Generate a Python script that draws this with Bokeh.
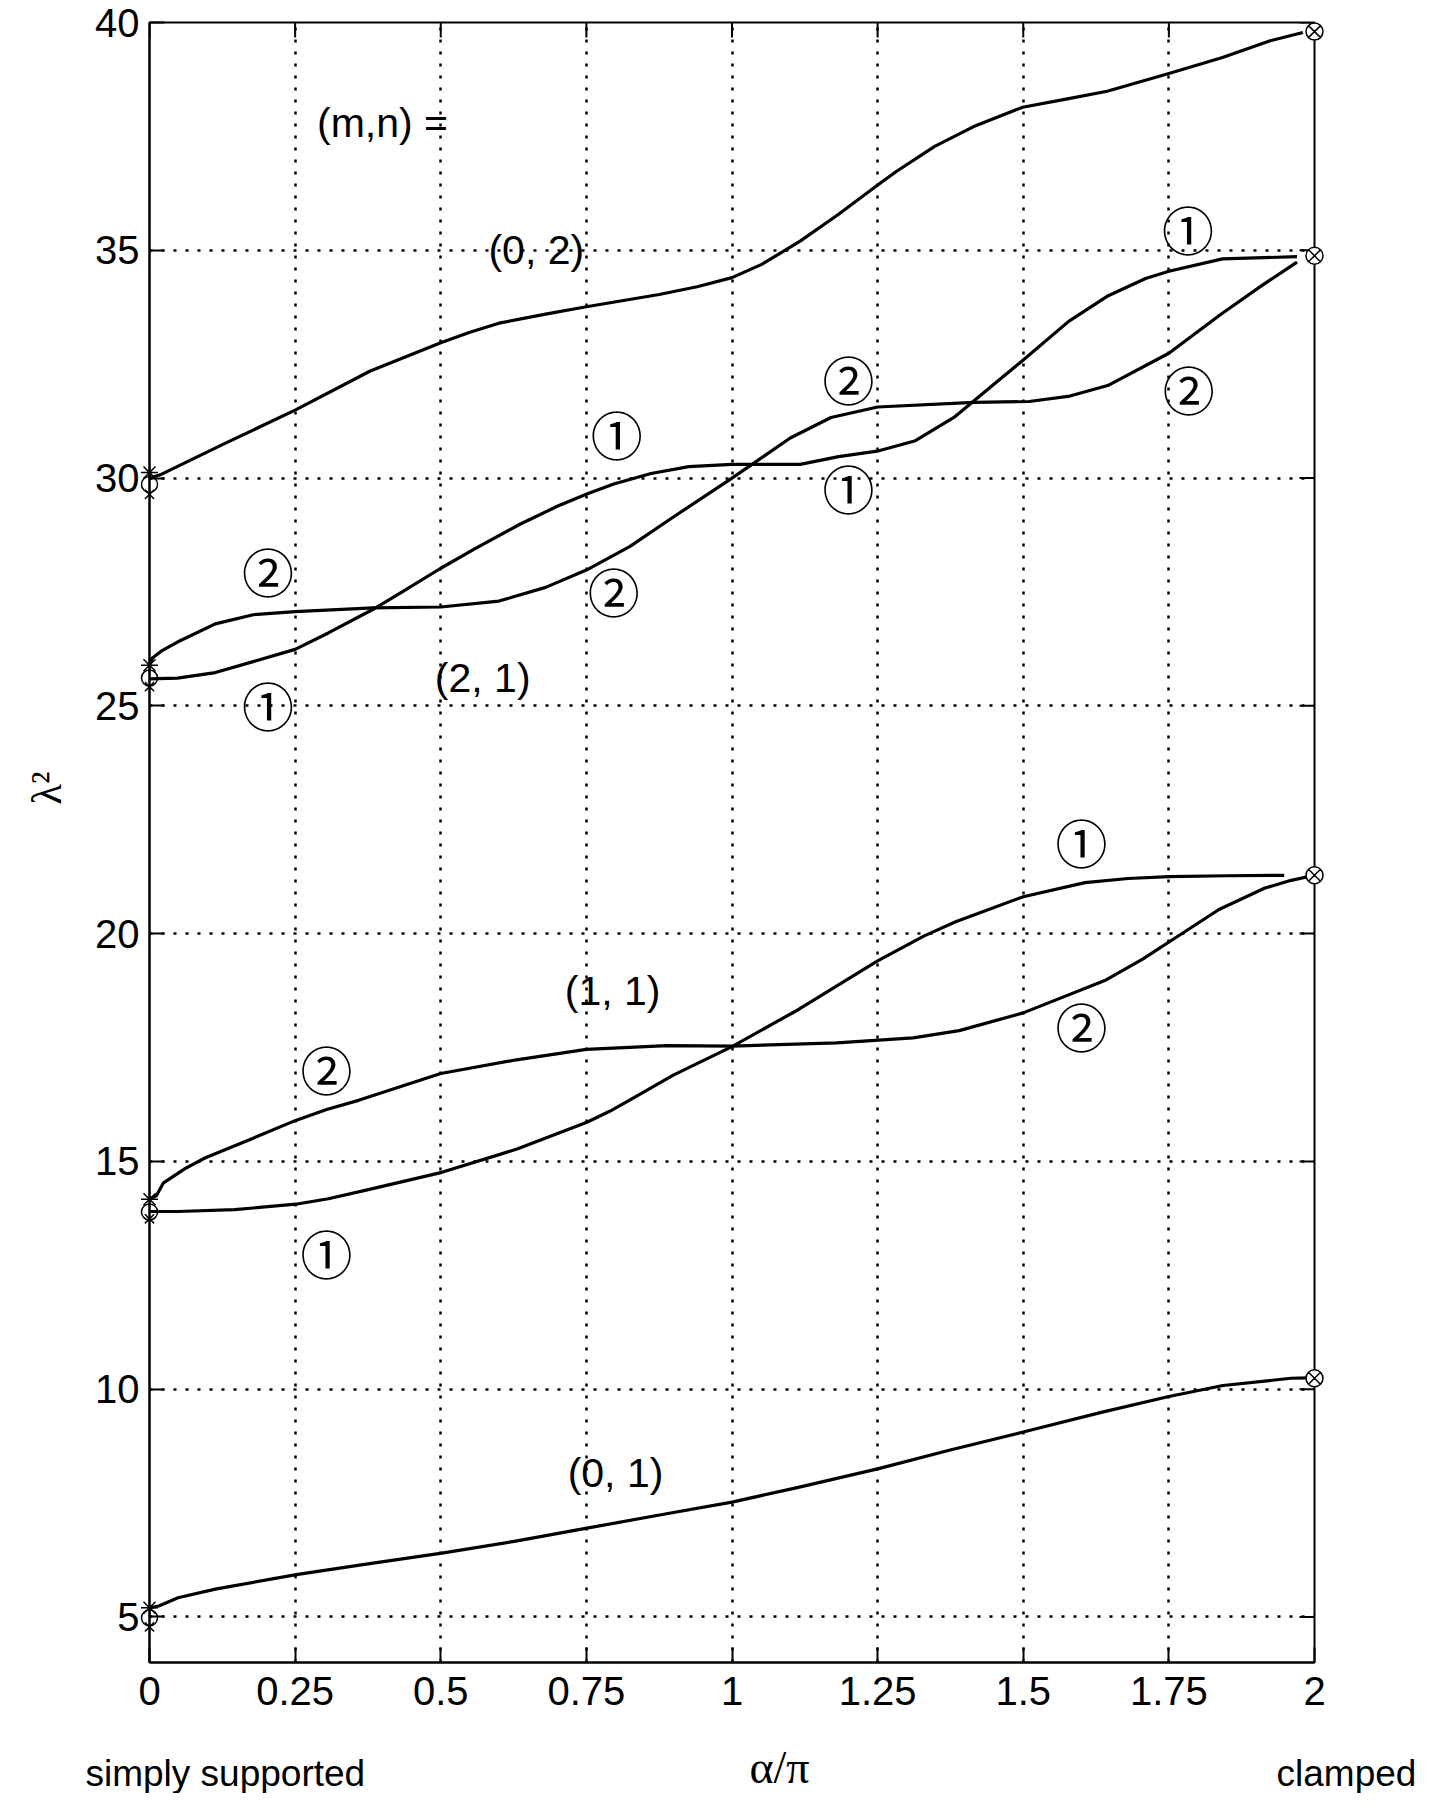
import math
from bokeh.plotting import figure
from bokeh.layouts import column, row
from bokeh.models import Range1d, FixedTicker
from bokeh.core.properties import value
from bokeh.embed import file_html
from bokeh.resources import INLINE

# ---------------- data ----------------
x_ticks = [0, 0.25, 0.5, 0.75, 1, 1.25, 1.5, 1.75, 2]
x_tick_labels = ["0", "0.25", "0.5", "0.75", "1", "1.25", "1.5", "1.75", "2"]
y_ticks = [5, 10, 15, 20, 25, 30, 35, 40]
y_tick_labels = ["5", "10", "15", "20", "25", "30", "35", "40"]

# mode (0,1)
m01_x = [0, 0.016, 0.049, 0.113, 0.252, 0.372, 0.502, 0.631, 0.751, 0.89, 1.0,
         1.112, 1.25, 1.373, 1.5, 1.634, 1.75, 1.843, 1.96, 1.99]
m01_y = [5.2, 5.24, 5.42, 5.61, 5.93, 6.16, 6.40, 6.67, 6.95, 7.27, 7.52,
         7.84, 8.25, 8.66, 9.06, 9.49, 9.84, 10.08, 10.24, 10.25]

# mode (1,1) branch 1
m11a_x = [0, 0.049, 0.146, 0.251, 0.307, 0.372, 0.502, 0.631, 0.751, 0.79, 0.825,
          0.9, 1.0, 1.115, 1.25, 1.33, 1.384, 1.5, 1.606, 1.68, 1.75, 1.85, 1.948]
m11a_y = [13.9, 13.9, 13.94, 14.06, 14.18, 14.37, 14.76, 15.27, 15.86, 16.1, 16.35,
          16.9, 17.52, 18.34, 19.4, 19.95, 20.26, 20.81, 21.12, 21.21, 21.25, 21.27, 21.28]
# mode (1,1) branch 2
m11b_x = [0, 0.012, 0.024, 0.061, 0.096, 0.178, 0.251, 0.304, 0.359, 0.5, 0.63,
          0.75, 0.888, 1.0, 1.18, 1.311, 1.39, 1.5, 1.64, 1.705, 1.77, 1.836,
          1.915, 1.96, 2.0]
m11b_y = [14.17, 14.25, 14.53, 14.84, 15.08, 15.51, 15.9, 16.14, 16.34, 16.93, 17.23,
          17.46, 17.54, 17.53, 17.6, 17.71, 17.87, 18.26, 18.97, 19.44, 19.98, 20.53,
          21.0, 21.17, 21.28]

# mode (2,1) branch 1
m21a_x = [0, 0.048, 0.113, 0.178, 0.25, 0.307, 0.384, 0.436, 0.5, 0.559, 0.635,
          0.7, 0.753, 0.797, 0.861, 0.926, 1.0, 1.117, 1.183, 1.249, 1.315, 1.381,
          1.447, 1.499, 1.578, 1.644, 1.71, 1.75, 1.842, 1.97]
m21a_y = [25.59, 25.61, 25.73, 25.97, 26.24, 26.6, 27.12, 27.52, 28.02, 28.45, 28.98,
          29.38, 29.66, 29.87, 30.1, 30.25, 30.3, 30.3, 30.47, 30.59, 30.82, 31.33,
          32.03, 32.58, 33.44, 33.99, 34.38, 34.54, 34.81, 34.86]
# mode (2,1) branch 2
m21b_x = [0, 0.005, 0.02, 0.048, 0.113, 0.178, 0.25, 0.384, 0.5, 0.6, 0.68, 0.75,
          0.825, 0.9, 1.0, 1.04, 1.1, 1.17, 1.25, 1.415, 1.51, 1.58, 1.645, 1.75,
          1.84, 1.91, 1.97]
m21b_y = [25.89, 26.05, 26.2, 26.4, 26.8, 27.0, 27.07, 27.15, 27.17, 27.3, 27.6, 27.98,
          28.5, 29.15, 30.0, 30.35, 30.88, 31.33, 31.56, 31.66, 31.68, 31.8, 32.03, 32.74,
          33.6, 34.23, 34.74]

# mode (0,2)
m02_x = [0, 0.02, 0.126, 0.25, 0.379, 0.5, 0.55, 0.6, 0.68, 0.75, 0.875, 0.94, 1.0,
         1.051, 1.117, 1.183, 1.249, 1.282, 1.348, 1.414, 1.499, 1.578, 1.644, 1.75,
         1.842, 1.924, 1.98]
m02_y = [30.0, 30.08, 30.74, 31.49, 32.35, 32.97, 33.2, 33.4, 33.6, 33.76, 34.03, 34.2,
         34.40, 34.69, 35.2, 35.79, 36.42, 36.73, 37.28, 37.71, 38.14, 38.33, 38.49,
         38.88, 39.23, 39.6, 39.78]

# end-point markers
left_x = [0, 0, 0, 0]
left_star_y = [5.2, 14.17, 25.89, 30.12]
left_circle_y = [4.98, 13.89, 25.61, 29.86]
left_cross_y = [4.78, 13.74, 25.42, 29.64]
right_x = [2, 2, 2, 2]
right_y = [10.24, 21.28, 34.88, 39.8]

# mode labels
mode_text = ["(m,n) =", "(0, 2)", "(2, 1)", "(1, 1)", "(0, 1)"]
mode_x = [0.40, 0.664, 0.572, 0.795, 0.80]
mode_y = [37.8, 35.0, 25.61, 18.75, 8.15]

# branch labels
branch_text = ["①", "②", "②", "①", "①", "②", "②", "①", "②", "①", "②", "①"]
branch_x = [1.783, 1.20, 1.784, 1.20, 0.802, 0.2035, 0.797, 0.2035, 0.304, 1.60, 1.60, 0.304]
branch_y = [35.48, 32.19, 31.96, 29.80, 30.98, 27.98, 27.54, 25.02, 17.03, 22.02, 17.99, 13.0]

# outer captions (positions in plot data units, left-aligned)
side_text = ["simply supported", "clamped"]
side_x = [-0.1099, 1.9348]
side_y = [1.56, 1.56]
xlabel_text = ["α/π"]
xlabel_x = [1.030]
xlabel_y = [1.70]
ylabel_text = ["λ²"]
ylabel_x = [-0.1768]
ylabel_y = [22.46]

# ---------------- layout constants ----------------
X0, X1, Y0, Y1 = 0, 2, 4, 40
FRAME_W, FRAME_H = 1165, 1640
LEFT_TOTAL, STRIP_L = 149, 70
RIGHT, TOP, MAIN_BOTTOM, STRIP_B = 105, 22, 60, 71
TOTAL_W = LEFT_TOTAL + FRAME_W + RIGHT
MAIN_H = TOP + FRAME_H + MAIN_BOTTOM
ppx = FRAME_W / (X1 - X0)
ppy = FRAME_H / (Y1 - Y0)

SANS = "Liberation Sans"
SERIF = "Liberation Serif"

# ---------------- main figure ----------------
p = figure(width=TOTAL_W - STRIP_L, height=MAIN_H, x_range=Range1d(X0, X1),
           y_range=Range1d(Y0, Y1), output_backend="svg", toolbar_location=None,
           min_border_left=LEFT_TOTAL - STRIP_L, min_border_right=RIGHT,
           min_border_top=TOP, min_border_bottom=MAIN_BOTTOM)
p.background_fill_color = "white"
p.border_fill_color = "white"
p.outline_line_color = "black"
p.outline_line_width = 2

for ax, ticks, labels in [(p.xaxis[0], x_ticks, x_tick_labels), (p.yaxis[0], y_ticks, y_tick_labels)]:
    ax.ticker = FixedTicker(ticks=ticks)
    ax.major_label_overrides = {float(t): l for t, l in zip(ticks, labels)}
    ax.major_tick_in = 15
    ax.major_tick_out = 0
    ax.minor_tick_line_color = None
    ax.axis_line_width = 2
    ax.axis_line_color = "black"
    ax.major_tick_line_width = 2
    ax.major_tick_line_color = "black"
    ax.major_label_text_font = SANS
    ax.major_label_text_font_size = "40px"
    ax.major_label_text_color = "black"
p.xaxis[0].major_label_standoff = 14
p.yaxis[0].major_label_standoff = 10

p.xgrid.ticker = FixedTicker(ticks=x_ticks)
p.ygrid.ticker = FixedTicker(ticks=y_ticks)
p.grid.grid_line_color = "black"
p.grid.grid_line_alpha = 1
p.grid.grid_line_width = 2.5
p.grid.grid_line_dash = "3 9"

# inward ticks on the top and right edges of the box
p.ray(x=x_ticks, y=[Y1] * len(x_ticks), length=15, length_units="screen",
      angle=-math.pi / 2, line_color="black", line_width=2)
p.ray(x=[X1] * len(y_ticks), y=y_ticks, length=15, length_units="screen",
      angle=math.pi, line_color="black", line_width=2)

for xs, ys in [(m01_x, m01_y), (m11a_x, m11a_y), (m11b_x, m11b_y),
               (m21a_x, m21a_y), (m21b_x, m21b_y), (m02_x, m02_y)]:
    p.line(xs, ys, line_color="black", line_width=3.2, line_join="round")

p.scatter(left_x, left_star_y, marker="asterisk", size=17, line_color="black",
          line_width=1.5, level="overlay")
p.scatter(left_x, left_circle_y, marker="circle", size=16, line_color="black",
          fill_color=None, line_width=1.5, level="overlay")
p.scatter(left_x, left_cross_y, marker="x", size=13, line_color="black",
          line_width=1.5, level="overlay")
p.scatter(right_x, right_y, marker="circle_x", size=17, line_color="black",
          fill_color="white", line_width=1.5, level="overlay")

p.text(mode_x, mode_y, text=mode_text, text_font=value(SANS), text_font_size="41px",
       text_align="center", text_baseline="middle", text_color="black")
p.text(branch_x, branch_y, text=branch_text, text_font=value("Noto Sans CJK JP"),
       text_font_size="52px", text_align="center", text_baseline="middle",
       text_color="black")


def strip(width, height, xr, yr):
    s = figure(width=width, height=height, x_range=xr, y_range=yr,
               output_backend="svg", toolbar_location=None,
               x_axis_type=None, y_axis_type=None, min_border=0)
    s.outline_line_color = None
    s.background_fill_color = "white"
    s.border_fill_color = "white"
    s.grid.visible = False
    return s


# left strip: y label
left = strip(STRIP_L, MAIN_H,
             Range1d(X0 - LEFT_TOTAL / ppx, X0 - (LEFT_TOTAL - STRIP_L) / ppx),
             Range1d(Y0 - MAIN_BOTTOM / ppy, Y1 + TOP / ppy))
left.text(ylabel_x, ylabel_y, text=ylabel_text, text_font=value(SERIF),
          text_font_size="42px", text_align="left", text_baseline="middle",
          angle=math.pi / 2, text_color="black")

# bottom strip: captions
bottom = strip(TOTAL_W, STRIP_B,
               Range1d(X0 - LEFT_TOTAL / ppx, X1 + RIGHT / ppx),
               Range1d(Y0 - (MAIN_BOTTOM + STRIP_B) / ppy, Y0 - MAIN_BOTTOM / ppy))
bottom.text(side_x, side_y, text=side_text, text_font=value(SANS),
            text_font_size="37px", text_align="left", text_baseline="middle",
            text_color="black")
bottom.text(xlabel_x, xlabel_y, text=xlabel_text, text_font=value(SERIF),
            text_font_size="46px", text_align="left", text_baseline="middle",
            text_color="black")

layout = column(row(left, p, spacing=0), bottom, spacing=0)

open("out.html", "w").write(file_html(layout, INLINE))
